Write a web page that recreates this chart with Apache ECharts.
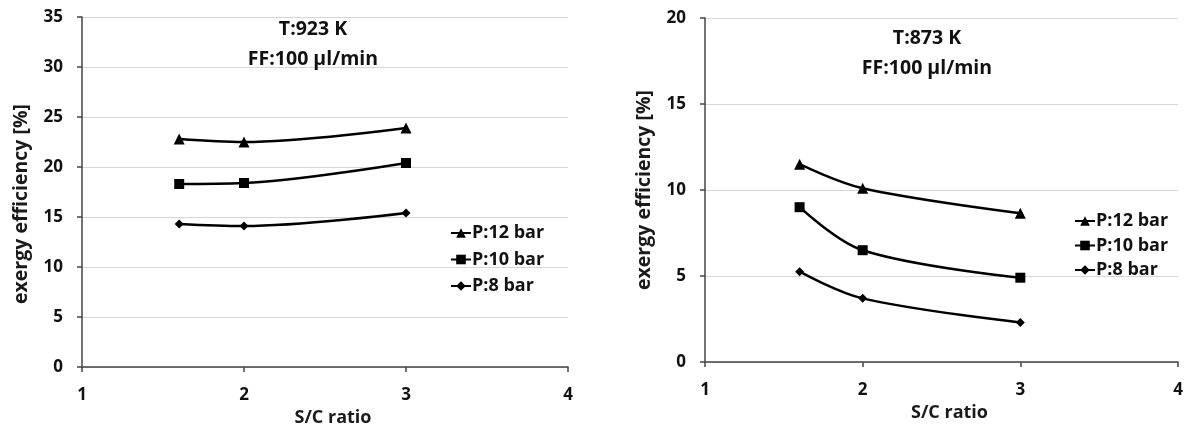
<!DOCTYPE html>
<html><head><meta charset="utf-8">
<script src="https://cdn.jsdelivr.net/npm/echarts@6/dist/echarts.min.js"></script>
<style>html,body{margin:0;padding:0;background:#fff}#c{width:1185px;height:426px}</style>
</head><body><div id="c"></div>
<script>
const scRatio = [1.6, 2, 3];
const seriesNames = ['P:12 bar', 'P:10 bar', 'P:8 bar'];
const left923 = {
  'P:12 bar': [22.8, 22.5, 23.9],
  'P:10 bar': [18.3, 18.4, 20.4],
  'P:8 bar': [14.3, 14.1, 15.4]
};
const right873 = {
  'P:12 bar': [11.5, 10.1, 8.65],
  'P:10 bar': [9.0, 6.5, 4.9],
  'P:8 bar': [5.25, 3.7, 2.3]
};
const titleLeft = 'T:923 K\nFF:100 µl/min';
const titleRight = 'T:873 K\nFF:100 µl/min';
const xName = 'S/C ratio';
const yName = 'exergy efficiency [%]';

const FONT = '"Open Sans"';
const symbols = {'P:12 bar': 'triangle', 'P:10 bar': 'rect', 'P:8 bar': 'diamond'};
const symSize = {'P:12 bar': 11, 'P:10 bar': 10, 'P:8 bar': 9};

function xAxis(gi, gap){
  return {gridIndex: gi, type:'value', min:1, max:4, interval:1,
    name: xName, nameLocation:'middle', nameGap: gap,
    nameTextStyle:{fontFamily:FONT, fontWeight:'bold', fontSize:18, color:'#1a1a1a', padding:[0,0,0,16]},
    axisLine:{lineStyle:{color:'#444', width:1.5}},
    axisTick:{show:true, length:5, lineStyle:{color:'#444', width:1.5}},
    axisLabel:{fontFamily:FONT, fontWeight:'bold', fontSize:17, color:'#111', margin:20},
    splitLine:{show:false}};
}
function yAxis(gi, max, pad){
  return {gridIndex: gi, type:'value', min:0, max:max, interval:5,
    name: yName, nameLocation:'middle', nameGap: 51,
    nameTextStyle:{fontFamily:FONT, fontWeight:'bold', fontSize:19.5, color:'#1a1a1a', padding:pad},
    axisLine:{show:true, lineStyle:{color:'#444', width:1.5}},
    axisTick:{show:true, length:5, lineStyle:{color:'#444', width:1.5}},
    axisLabel:{fontFamily:FONT, fontWeight:'bold', fontSize:17, color:'#111', margin:19},
    splitLine:{show:true, lineStyle:{color:'#d6d6d6', width:1}}};
}
function mk(data, gi){
  return seriesNames.map(n => ({
    name:n, type:'line', xAxisIndex:gi, yAxisIndex:gi, smooth:0.35,
    symbol: symbols[n], symbolSize: symSize[n],
    lineStyle:{color:'#000', width:2.5}, itemStyle:{color:'#000'},
    data: scRatio.map((x,i)=>[x, data[n][i]])
  }));
}
const titleStyle = {fontFamily:FONT, fontWeight:'bold', fontSize:19.5, lineHeight:30.5, color:'#111'};
const legendText = {fontFamily:FONT, fontWeight:'bold', fontSize:18, lineHeight:20, color:'#111', padding:[0,0,0,-4]};
const chart = echarts.init(document.getElementById('c'));
chart.setOption({
  animation:false,
  title:[
    {text:titleLeft, left:313, top:14, padding:0, textAlign:'center', textStyle:titleStyle},
    {text:titleRight, left:927, top:23, padding:0, textAlign:'center', textStyle:titleStyle}
  ],
  legend:[
    {orient:'vertical', left:450, top:223, padding:0, itemGap:6.5, itemWidth:20, itemHeight:12,
     data:seriesNames, textStyle:legendText},
    {orient:'vertical', left:1074, top:211, padding:0, itemGap:4.5, itemWidth:20, itemHeight:12,
     data:seriesNames, textStyle:legendText}
  ],
  grid:[
    {left:82, right:617, top:17, bottom:59, containLabel:false, outerBoundsMode:'none'},
    {left:705, right:7, top:18, bottom:64, containLabel:false, outerBoundsMode:'none'}
  ],
  xAxis:[xAxis(0, 35), xAxis(1, 39)],
  yAxis:[yAxis(0,35,[0,24,0,0]), yAxis(1,20,[0,0,0,0])],
  series:[...mk(left923,0), ...mk(right873,1)]
});
</script></body></html>
